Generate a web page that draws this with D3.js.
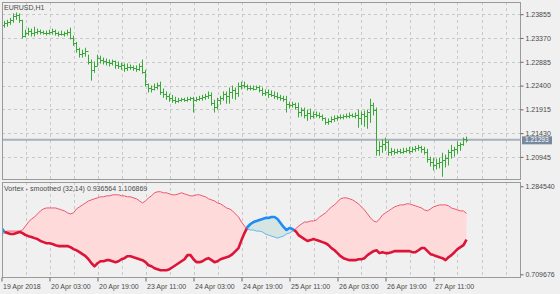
<!DOCTYPE html>
<html>
<head>
<meta charset="utf-8">
<script src="https://cdn.jsdelivr.net/npm/d3@7"></script>
<style>
  body { margin: 0; background: #f0f0f0; }
  svg { display: block; font-family: "Liberation Sans", Arial, sans-serif; }
  .axis text { font-size: 7px; fill: #4a4a4a; }
  .axis path { display: none; }
  .axis line { stroke: #666; }
</style>
</head>
<body>
<script>
// EURUSD H1 bars, 19 Apr 2018 11:00 .. 27 Apr 2018 22:00
var highs = [
  1.2369,1.2371,1.2373,1.2377,1.2386,1.2388,1.2386,1.2373,1.2353,1.2357,
  1.2355,1.2359,1.2355,1.2353,1.2351,1.2351,1.2353,1.2355,1.2353,1.2349,
  1.2351,1.2349,1.2353,1.2357,1.2341,1.2328,1.2316,1.2312,1.2316,1.2302,
  1.2292,1.2288,1.2302,1.2300,1.2296,1.2294,1.2292,1.2292,1.2290,1.2288,
  1.2286,1.2284,1.2284,1.2282,1.2280,1.2280,1.2284,1.2292,1.2271,1.2243,
  1.2239,1.2243,1.2245,1.2247,1.2233,1.2227,1.2222,1.2220,1.2216,1.2214,
  1.2214,1.2214,1.2216,1.2216,1.2216,1.2216,1.2218,1.2220,1.2222,1.2227,
  1.2225,1.2210,1.2214,1.2218,1.2227,1.2227,1.2235,1.2239,1.2235,1.2245,
  1.2247,1.2247,1.2241,1.2239,1.2239,1.2239,1.2239,1.2235,1.2231,1.2231,
  1.2229,1.2227,1.2225,1.2220,1.2218,1.2218,1.2206,1.2206,1.2204,1.2204,
  1.2194,1.2194,1.2190,1.2192,1.2186,1.2186,1.2184,1.2180,1.2174,1.2172,
  1.2176,1.2178,1.2178,1.2180,1.2180,1.2182,1.2184,1.2182,1.2184,1.2190,
  1.2186,1.2188,1.2190,1.2212,1.2204,1.2194,1.2125,1.2129,1.2133,1.2127,
  1.2112,1.2110,1.2110,1.2110,1.2112,1.2112,1.2114,1.2114,1.2116,1.2118,
  1.2116,1.2114,1.2110,1.2094,1.2092,1.2090,1.2092,1.2102,1.2098,1.2108,
  1.2118,1.2114,1.2125,1.2123,1.2133,1.2135
];
var lows = [
  1.2357,1.2359,1.2361,1.2365,1.2369,1.2375,1.2369,1.2337,1.2339,1.2343,
  1.2341,1.2341,1.2345,1.2345,1.2345,1.2343,1.2345,1.2345,1.2343,1.2341,
  1.2343,1.2341,1.2343,1.2335,1.2322,1.2308,1.2298,1.2298,1.2300,1.2284,
  1.2251,1.2267,1.2280,1.2286,1.2284,1.2282,1.2280,1.2282,1.2275,1.2275,
  1.2273,1.2269,1.2271,1.2273,1.2271,1.2269,1.2271,1.2265,1.2239,1.2227,
  1.2227,1.2231,1.2233,1.2222,1.2216,1.2212,1.2208,1.2206,1.2204,1.2206,
  1.2208,1.2208,1.2208,1.2210,1.2186,1.2208,1.2210,1.2210,1.2212,1.2214,
  1.2200,1.2186,1.2192,1.2202,1.2210,1.2204,1.2204,1.2214,1.2212,1.2218,
  1.2233,1.2235,1.2231,1.2231,1.2231,1.2233,1.2227,1.2220,1.2220,1.2216,
  1.2218,1.2214,1.2212,1.2210,1.2208,1.2186,1.2194,1.2196,1.2192,1.2176,
  1.2178,1.2174,1.2169,1.2172,1.2174,1.2176,1.2174,1.2169,1.2161,1.2161,
  1.2165,1.2167,1.2169,1.2172,1.2172,1.2174,1.2174,1.2176,1.2174,1.2155,
  1.2161,1.2157,1.2153,1.2165,1.2180,1.2098,1.2098,1.2104,1.2108,1.2098,
  1.2098,1.2100,1.2102,1.2102,1.2102,1.2104,1.2102,1.2104,1.2106,1.2108,
  1.2104,1.2100,1.2084,1.2076,1.2068,1.2070,1.2072,1.2055,1.2074,1.2078,
  1.2092,1.2096,1.2102,1.2108,1.2118,1.2125
];
var closes = [
  1.2363,1.2367,1.2369,1.2373,1.2381,1.2383,1.2373,1.2341,1.2347,1.2351,
  1.2347,1.2349,1.2351,1.2349,1.2347,1.2347,1.2349,1.2351,1.2347,1.2345,
  1.2345,1.2347,1.2349,1.2337,1.2326,1.2314,1.2304,1.2306,1.2310,1.2288,
  1.2271,1.2280,1.2296,1.2292,1.2290,1.2288,1.2286,1.2290,1.2282,1.2280,
  1.2282,1.2275,1.2277,1.2277,1.2275,1.2273,1.2280,1.2267,1.2243,1.2235,
  1.2233,1.2237,1.2241,1.2227,1.2222,1.2218,1.2214,1.2210,1.2208,1.2210,
  1.2212,1.2210,1.2212,1.2214,1.2210,1.2212,1.2214,1.2216,1.2218,1.2220,
  1.2204,1.2196,1.2210,1.2214,1.2222,1.2218,1.2227,1.2231,1.2225,1.2239,
  1.2241,1.2239,1.2235,1.2235,1.2233,1.2237,1.2231,1.2225,1.2227,1.2222,
  1.2220,1.2218,1.2216,1.2214,1.2212,1.2202,1.2200,1.2202,1.2196,1.2186,
  1.2190,1.2180,1.2184,1.2178,1.2182,1.2180,1.2178,1.2174,1.2165,1.2167,
  1.2172,1.2174,1.2176,1.2176,1.2178,1.2178,1.2180,1.2178,1.2180,1.2174,
  1.2182,1.2178,1.2186,1.2200,1.2190,1.2108,1.2116,1.2121,1.2125,1.2104,
  1.2106,1.2104,1.2106,1.2104,1.2106,1.2108,1.2106,1.2110,1.2112,1.2114,
  1.2110,1.2104,1.2090,1.2084,1.2078,1.2082,1.2084,1.2088,1.2092,1.2104,
  1.2108,1.2110,1.2118,1.2121,1.2131,1.21293
];

// Vortex - smoothed (32,14): thick line and thin line
var viPlus = [
  1.012,0.986,0.979,0.973,0.973,0.979,0.986,0.979,0.966,0.959,
  0.953,0.946,0.940,0.927,0.920,0.913,0.913,0.907,0.900,0.894,
  0.894,0.894,0.894,0.887,0.874,0.867,0.854,0.841,0.828,0.808,
  0.782,0.762,0.782,0.795,0.795,0.802,0.802,0.795,0.789,0.795,
  0.808,0.815,0.828,0.828,0.821,0.815,0.808,0.802,0.789,0.769,
  0.762,0.749,0.743,0.736,0.736,0.736,0.743,0.756,0.769,0.782,
  0.795,0.808,0.835,0.835,0.808,0.789,0.789,0.795,0.808,0.815,
  0.802,0.789,0.795,0.808,0.815,0.821,0.828,0.841,0.861,0.881,
  0.933,0.979,1.019,1.038,1.051,1.058,1.065,1.071,1.078,1.078,
  1.084,1.084,1.071,1.045,1.019,0.999,1.012,1.005,0.992,0.966,
  0.953,0.940,0.927,0.933,0.940,0.933,0.927,0.920,0.913,0.900,
  0.881,0.867,0.848,0.828,0.815,0.808,0.802,0.802,0.802,0.808,
  0.808,0.815,0.835,0.848,0.861,0.867,0.848,0.854,0.848,0.848,
  0.854,0.861,0.861,0.861,0.861,0.861,0.861,0.854,0.854,0.867,
  0.881,0.881,0.861,0.841,0.835,0.828,0.821,0.815,0.802,0.821,
  0.835,0.854,0.874,0.887,0.900,0.936564
];
var viMinus = [
  0.959,0.986,0.992,0.992,0.992,0.992,0.992,0.999,1.025,1.051,
  1.071,1.084,1.104,1.124,1.137,1.143,1.143,1.143,1.143,1.137,
  1.130,1.124,1.111,1.104,1.111,1.137,1.150,1.163,1.176,1.189,
  1.196,1.203,1.209,1.216,1.216,1.222,1.222,1.229,1.229,1.229,
  1.222,1.222,1.216,1.216,1.209,1.203,1.189,1.176,1.189,1.209,
  1.222,1.242,1.249,1.249,1.242,1.242,1.235,1.229,1.229,1.235,
  1.242,1.235,1.229,1.222,1.222,1.229,1.229,1.222,1.216,1.203,
  1.196,1.189,1.176,1.170,1.157,1.143,1.137,1.124,1.104,1.084,
  1.051,1.025,1.005,0.999,0.999,0.992,0.992,0.986,0.973,0.966,
  0.959,0.953,0.946,0.953,0.959,0.973,0.979,0.992,1.005,1.025,
  1.038,1.051,1.051,1.058,1.058,1.065,1.084,1.097,1.111,1.130,
  1.150,1.163,1.183,1.203,1.209,1.209,1.203,1.196,1.183,1.170,
  1.150,1.130,1.104,1.078,1.058,1.051,1.071,1.097,1.111,1.124,
  1.137,1.150,1.157,1.163,1.163,1.170,1.170,1.163,1.157,1.150,
  1.143,1.130,1.124,1.137,1.150,1.157,1.163,1.163,1.163,1.157,
  1.143,1.137,1.130,1.124,1.124,1.106869
];

var priceTicks = [1.23855, 1.23370, 1.22885, 1.22400, 1.21915, 1.21430, 1.20945];
var vortexTicks = [1.284540, 0.709676];
var timeTickIdx = [0, 16, 32, 48, 64, 80, 96, 112, 128, 144];
var timeLabels = ["19 Apr 2018", "20 Apr 03:00", "20 Apr 19:00", "23 Apr 11:00", "24 Apr 03:00",
                  "24 Apr 19:00", "25 Apr 11:00", "26 Apr 03:00", "26 Apr 19:00", "27 Apr 11:00"];
var lastPrice = 1.21293;

var W = 560, H = 294;
var left = 2, right = 521;
var main = {top: 2, bottom: 180}, sub = {top: 182, bottom: 278};

var svg = d3.select("body").append("svg")
    .attr("width", W)
    .attr("height", H);

svg.append("rect").attr("width", W).attr("height", H).attr("fill", "#f0f0f0");

var x = d3.scaleLinear().domain([0, 155]).range([1.5, 466.5]);
var y = d3.scaleLinear().domain([1.20945, 1.23855]).range([156.9, 14.2]);
var yv = d3.scaleLinear().domain([0.709676, 1.284540]).range([274.3, 186.3]);

var defs = svg.append("defs");
defs.append("clipPath").attr("id", "clipMain").append("rect")
    .attr("x", left).attr("y", main.top).attr("width", right - left).attr("height", main.bottom - main.top);
defs.append("clipPath").attr("id", "clipSub").append("rect")
    .attr("x", left).attr("y", sub.top).attr("width", right - left).attr("height", sub.bottom - sub.top);

// grid
var gridIdx = d3.range(8, 173, 8);
[main, sub].forEach(function(p) {
    svg.append("g").selectAll("line")
        .data(gridIdx.filter(function(i) { return x(i) < right; }))
        .enter().append("line")
        .attr("x1", function(i) { return Math.round(x(i)) + 0.5; })
        .attr("x2", function(i) { return Math.round(x(i)) + 0.5; })
        .attr("y1", p.top).attr("y2", p.bottom)
        .attr("stroke", "#c8c8c8").attr("stroke-dasharray", "3,3");
});
svg.append("g").selectAll("line")
    .data(priceTicks)
    .enter().append("line")
    .attr("x1", left).attr("x2", right)
    .attr("y1", function(d) { return Math.round(y(d)) + 0.5; })
    .attr("y2", function(d) { return Math.round(y(d)) + 0.5; })
    .attr("stroke", "#c8c8c8").attr("stroke-dasharray", "3,3");

// current price line
svg.append("line")
    .attr("x1", left).attr("x2", right)
    .attr("y1", y(lastPrice)).attr("y2", y(lastPrice))
    .attr("stroke", "#a9b1ba").attr("stroke-width", 2);

// OHLC bars
var bars = svg.append("g").attr("clip-path", "url(#clipMain)")
    .attr("stroke", "#38a838").attr("stroke-width", 1);
closes.forEach(function(c, i) {
    var o = i == 0 ? 1.2365 : closes[i - 1];
    var cx = x(i);
    bars.append("line").attr("x1", cx).attr("x2", cx).attr("y1", y(highs[i]) - 0.5).attr("y2", y(lows[i]) + 0.5);
    bars.append("line").attr("x1", cx - 1.5).attr("x2", cx).attr("y1", Math.round(y(o)) + 0.5).attr("y2", Math.round(y(o)) + 0.5);
    bars.append("line").attr("x1", cx).attr("x2", cx + 1.5).attr("y1", Math.round(y(c)) + 0.5).attr("y2", Math.round(y(c)) + 0.5);
});

// vortex: split into runs where the thick line is above / below the thin one
var runs = [];
var cur = null;
viPlus.forEach(function(a, i) {
    var b = viMinus[i];
    var up = a > b;
    if (cur && cur.up != up) {
        var pa = viPlus[i - 1], pb = viMinus[i - 1];
        var t = (pa - pb) / ((pa - pb) - (a - b));
        var pt = {i: i - 1 + t, a: pa + t * (a - pa), b: pb + t * (b - pb)};
        cur.pts.push(pt);
        cur = {up: up, pts: [pt]};
        runs.push(cur);
    } else if (!cur) {
        cur = {up: up, pts: []};
        runs.push(cur);
    }
    cur.pts.push({i: i, a: a, b: b});
});

var vg = svg.append("g").attr("clip-path", "url(#clipSub)");
var area = d3.area()
    .x(function(d) { return x(d.i); })
    .y0(function(d) { return yv(d.b); })
    .y1(function(d) { return yv(d.a); });
var lineA = d3.line().x(function(d) { return x(d.i); }).y(function(d) { return yv(d.a); });
var lineB = d3.line().x(function(d) { return x(d.i); }).y(function(d) { return yv(d.b); });

runs.forEach(function(r) {
    vg.append("path").attr("d", area(r.pts))
        .attr("fill", r.up ? "#d5e5e1" : "#ffdada");
});
runs.forEach(function(r) {
    vg.append("path").attr("d", lineB(r.pts))
        .attr("fill", "none").attr("stroke", r.up ? "#64b2f2" : "#ec5670").attr("stroke-width", 1);
});
runs.forEach(function(r) {
    vg.append("path").attr("d", lineA(r.pts))
        .attr("fill", "none").attr("stroke", r.up ? "#1e8cf5" : "#dc1438")
        .attr("stroke-width", 2.6).attr("stroke-linejoin", "round");
});

// panel frames
[main, sub].forEach(function(p) {
    svg.append("rect")
        .attr("x", left + 0.5).attr("y", p.top + 0.5)
        .attr("width", right - left - 1).attr("height", p.bottom - p.top - 1)
        .attr("fill", "none").attr("stroke", "#9a9a9a");
});

// right axes
svg.append("g").attr("class", "axis")
    .attr("transform", "translate(" + (right - 0.5) + ",0)")
    .call(d3.axisRight(y).tickValues(priceTicks).tickFormat(d3.format(".5f")).tickSize(3).tickPadding(2));
svg.append("g").attr("class", "axis")
    .attr("transform", "translate(" + (right - 0.5) + ",0)")
    .call(d3.axisRight(yv).tickValues(vortexTicks).tickFormat(d3.format(".6f")).tickSize(3).tickPadding(2));

// current price label
var lp = svg.append("g").attr("transform", "translate(522," + y(lastPrice) + ")");
lp.append("rect").attr("x", 0).attr("y", -3.5).attr("width", 30).attr("height", 8).attr("fill", "#7889a0");
lp.append("text").attr("x", 3).attr("y", 0.5).attr("dy", "0.33em")
    .style("font-size", "6.5px").attr("fill", "#ffffff").text(d3.format(".5f")(lastPrice));

// time axis
var tAxis = svg.append("g").attr("class", "axis")
    .attr("transform", "translate(0," + (sub.bottom - 0.5) + ")")
    .call(d3.axisBottom(x).tickValues(timeTickIdx)
        .tickFormat(function(d, k) { return timeLabels[k]; })
        .tickSize(4).tickPadding(3));
tAxis.selectAll("text").attr("text-anchor", "start").attr("dx", "1px");

// titles
svg.append("text").attr("x", 4).attr("y", 10)
    .style("font-size", "7px").attr("fill", "#4a4a4a").text("EURUSD,H1");
svg.append("text").attr("x", 4).attr("y", 191)
    .style("font-size", "7px").attr("fill", "#4a4a4a")
    .text("Vortex - smoothed (32,14) " + d3.format(".6f")(viPlus[155]) + " " + d3.format(".6f")(viMinus[155]));
</script>
</body>
</html>
